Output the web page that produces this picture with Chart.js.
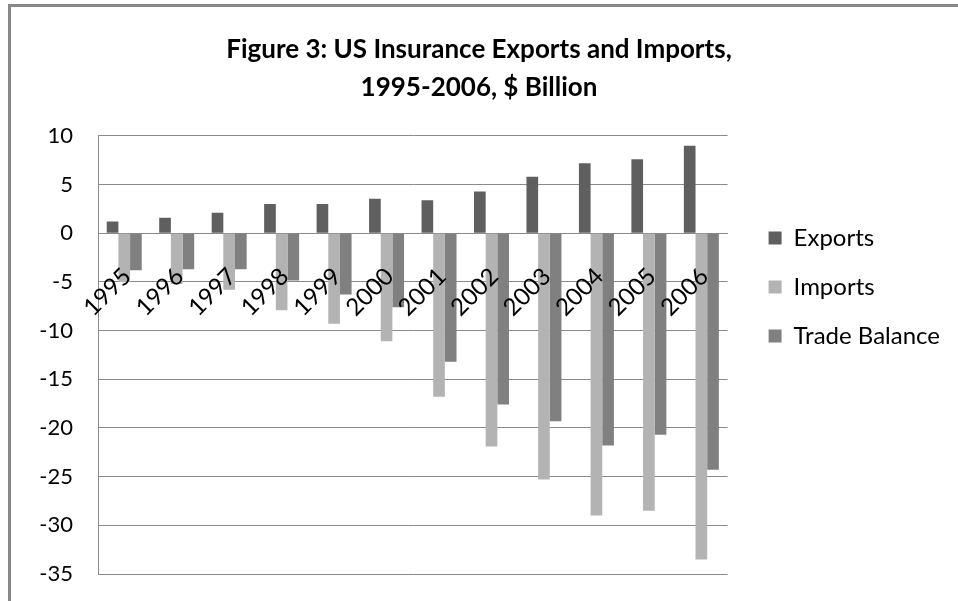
<!DOCTYPE html>
<html><head><meta charset="utf-8">
<script src="https://cdn.jsdelivr.net/npm/chart.js@4/dist/chart.umd.min.js"></script>
<style>
html,body{margin:0;padding:0;background:#fff;}
#wrap{position:relative;width:958px;height:601px;overflow:hidden;background:#fff;}
#frame{position:absolute;left:8px;top:4px;width:1000px;height:700px;border-left:3px solid #888;border-top:3px solid #888;}
canvas{position:absolute;left:0;top:0;}
</style></head><body>
<div id="wrap"><div id="frame"></div><canvas id="c" width="958" height="601"></canvas></div>
<script>
const years = ['1995','1996','1997','1998','1999','2000','2001','2002','2003','2004','2005','2006'];
const exportsData = [1.2, 1.6, 2.1, 3.0, 3.0, 3.55, 3.4, 4.3, 5.8, 7.2, 7.6, 9.0];
const importsData = [-5.0, -5.2, -5.8, -7.9, -9.3, -11.1, -16.8, -21.9, -25.3, -29.0, -28.5, -33.5];
const balanceData = [-3.8, -3.7, -3.7, -4.85, -6.3, -7.6, -13.2, -17.6, -19.3, -21.8, -20.7, -24.3];
const seriesNames = ['Exports', 'Imports', 'Trade Balance'];
const titleLines = ['Figure 3: US Insurance Exports and Imports,', '1995-2006, $ Billion'];
const yTicks = {min: -35, max: 10, step: 5};

const FONT = 'Lato, "Open Sans", sans-serif';
new Chart(document.getElementById('c'), {
  type: 'bar',
  data: {
    labels: years,
    datasets: [
      {label: seriesNames[0], data: exportsData, backgroundColor: '#5f5f5f'},
      {label: seriesNames[1], data: importsData, backgroundColor: '#b3b3b3'},
      {label: seriesNames[2], data: balanceData, backgroundColor: '#808080'}
    ]
  },
  options: {
    responsive: false,
    animation: false,
    devicePixelRatio: 1,
    layout: {padding: {left: 8, right: 8, top: 0, bottom: 27}},
    datasets: {bar: {categoryPercentage: 0.667, barPercentage: 1}},
    plugins: {
      title: {
        display: true, text: titleLines, color: '#000',
        font: {family: FONT, size: 26, weight: 'bold', lineHeight: 1.46},
        padding: {top: 31, bottom: 29}
      },
      legend: {
        position: 'right',
        labels: {font: {family: FONT, size: 24}, color: '#000', boxWidth: 13, boxHeight: 13, padding: 25}
      },
      tooltip: {enabled: false}
    },
    scales: {
      x: {
        position: {y: 0},
        grid: {display: false, drawTicks: false},
        border: {display: true, color: '#8a8a8a'},
        ticks: {z: 1, autoSkip: false, maxRotation: 45, minRotation: 45, padding: 29, labelOffset: 3,
                color: '#000', font: {family: FONT, size: 24}}
      },
      y: {
        min: yTicks.min, max: yTicks.max,
        ticks: {stepSize: yTicks.step, padding: 4, color: '#000', font: {family: FONT, size: 22}},
        grid: {color: '#8a8a8a', drawTicks: true, tickLength: 21, tickColor: 'rgba(0,0,0,0)'},
        border: {color: '#8a8a8a'},
        afterFit(s) { s.width = 90; }
      },
      y2: {
        position: 'right', display: false,
        afterFit(s) { s.width = 16; }
      }
    }
  }
});
</script>
</body></html>
